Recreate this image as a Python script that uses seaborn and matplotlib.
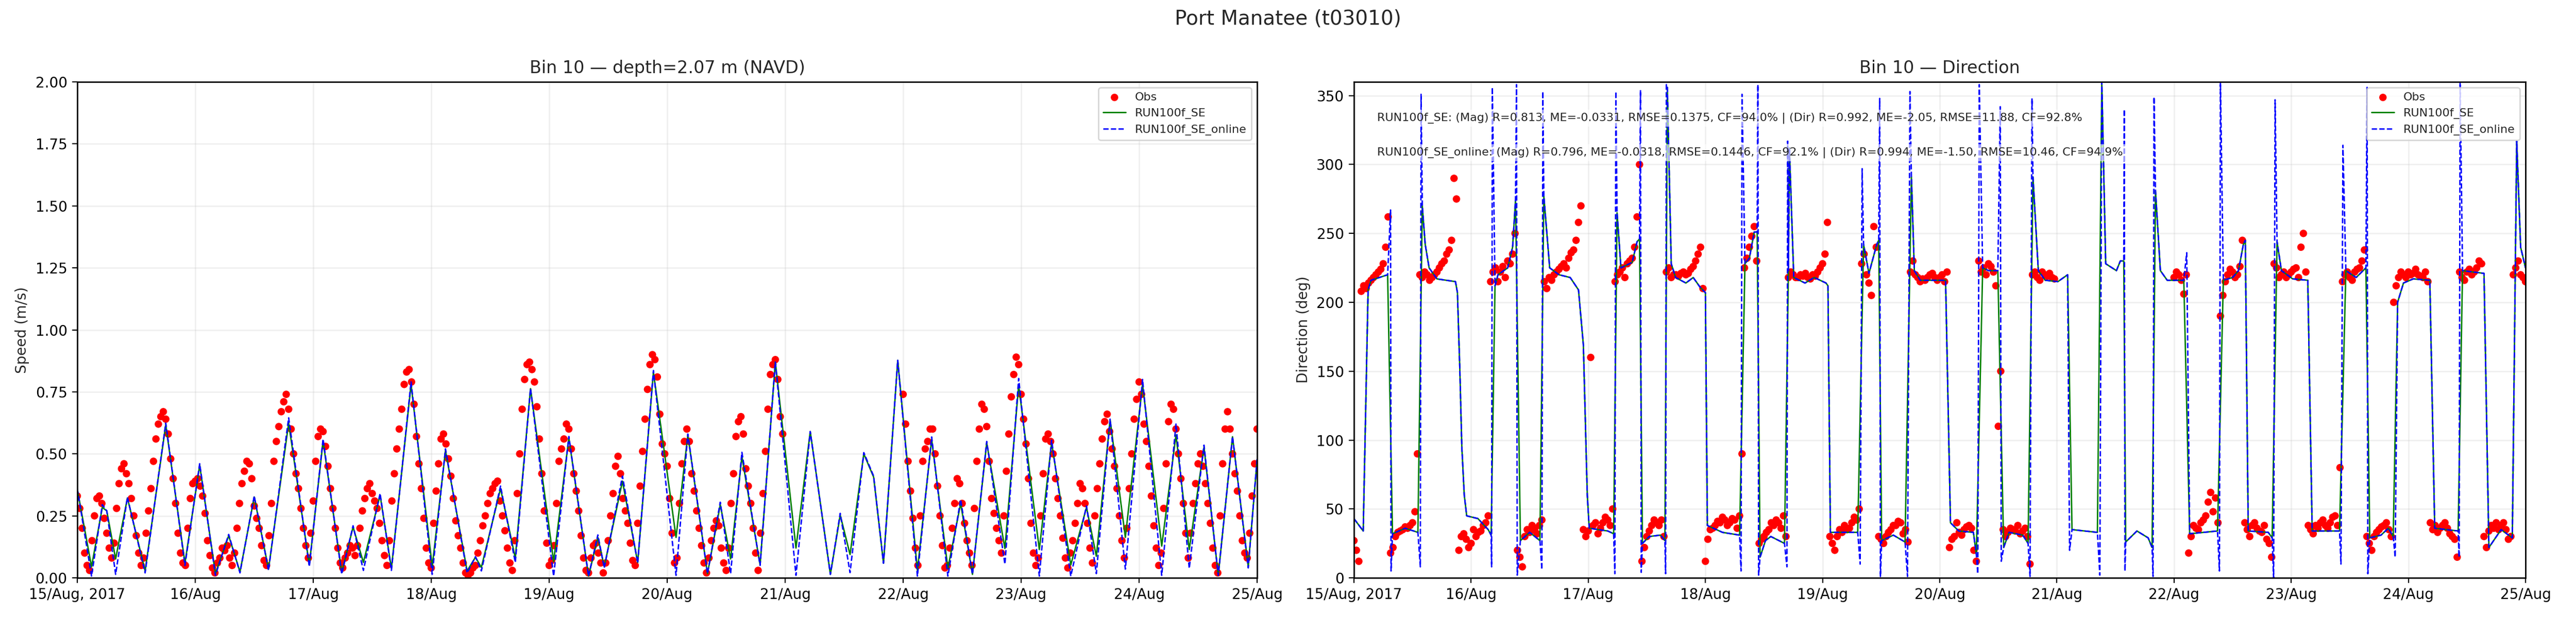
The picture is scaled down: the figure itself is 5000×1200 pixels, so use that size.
import pandas as pd
import matplotlib
matplotlib.use("Agg")
import matplotlib.pyplot as plt
import seaborn as sns

# --- DATA (hours since 15/Aug/2017 00:00) ---
T0 = pd.Timestamp("2017-08-15 00:00")

# modelled speed, read at the turning points of each curve
spd_se_hours = [0, 2.9, 5.1, 6.0, 7.8, 10.2, 13.8, 18.0, 21.9, 24.9, 28.1, 30.8, 33.1, 36.0, 38.9,
                43.0, 47.2, 50.0, 53.8, 56.1, 58.2, 61.6, 63.9, 67.9, 72.2, 74.9, 79.3, 81.0, 82.2,
                86.1, 89.1, 92.2, 96.9, 100.0, 104.0, 105.9, 107.2, 110.9, 114.0, 117.2, 121.8,
                124.2, 128.2, 130.8, 132.9, 135.2, 138.9, 142.0, 146.2, 149.1, 153.2, 155.2, 157.2,
                160.0, 162.0, 164.0, 166.9, 170.9, 173.8, 177.1, 179.7, 182.1, 185.0, 188.7, 191.5,
                195.7, 198.2, 202.1, 205.3, 207.3, 210.1, 213.2, 216.7, 220.6, 223.5, 226.2, 229.2,
                232.1, 235.0, 238.2, 240.0]
spd_se_vals = [0.357, 0.045, 0.284, 0.27, 0.076, 0.322, 0.028, 0.617, 0.059, 0.454, 0.017, 0.17,
               0.024, 0.326, 0.035, 0.624, 0.052, 0.551, 0.021, 0.205, 0.062, 0.333, 0.038, 0.78,
               0.045, 0.513, 0.028, 0.083, 0.042, 0.36, 0.08, 0.763, 0.066, 0.565, 0.007, 0.163,
               0.045, 0.39, 0.062, 0.829, 0.163, 0.576, 0.017, 0.295, 0.076, 0.489, 0.052, 0.87,
               0.12, 0.59, 0.014, 0.253, 0.094, 0.50, 0.406, 0.059, 0.877, 0.03, 0.558, 0.038,
               0.30, 0.014, 0.544, 0.118, 0.777, 0.114, 0.544, 0.052, 0.284, 0.087, 0.638, 0.163,
               0.78, 0.128, 0.576, 0.114, 0.527, 0.01, 0.569, 0.045, 0.475]
spd_online_vals = [0.36, 0.007, 0.295, 0.27, 0.014, 0.325, 0.02, 0.624, 0.05, 0.46, 0.01, 0.175,
                   0.02, 0.33, 0.03, 0.645, 0.045, 0.56, 0.015, 0.21, 0.03, 0.34, 0.03, 0.79,
                   0.014, 0.52, 0.02, 0.085, 0.028, 0.37, 0.062, 0.763, 0.007, 0.57, 0.007, 0.173,
                   0.04, 0.41, 0.06, 0.836, 0.01, 0.58, 0.017, 0.305, 0.017, 0.506, 0.05, 0.87,
                   0.01, 0.59, 0.014, 0.26, 0.021, 0.505, 0.41, 0.059, 0.877, 0.007, 0.568, 0.007,
                   0.316, 0.014, 0.55, 0.055, 0.804, 0.007, 0.555, 0.007, 0.29, 0.017, 0.64, 0.035,
                   0.80, 0.01, 0.62, 0.038, 0.535, 0.01, 0.57, 0.04, 0.48]

# observations, read every half hour; no data between 21/Aug 00h and 22/Aug 00h
obs_hours_a = list(range(0, 144))
obs_hours_b = list(range(168, 241))
obs_half_hours_a = [h + 0.5 for h in range(0, 144)]
obs_half_hours_b = [h + 0.5 for h in range(168, 240)]

obs_spd_a = [0.33, 0.20, 0.05, 0.15, 0.32, 0.30, 0.18, 0.08, 0.28, 0.44, 0.42, 0.32, 0.17, 0.05,
             0.18, 0.36, 0.56, 0.65, 0.64, 0.48, 0.30, 0.10, 0.05, 0.32, 0.39, 0.37, 0.26, 0.09,
             0.02, 0.08, 0.11, 0.08, 0.10, 0.30, 0.43, 0.46, 0.29, 0.20, 0.07, 0.17, 0.47, 0.61,
             0.71, 0.68, 0.50, 0.36, 0.20, 0.08, 0.31, 0.57, 0.59, 0.45, 0.28, 0.12, 0.04, 0.10,
             0.12, 0.13, 0.27, 0.36, 0.34, 0.28, 0.15, 0.05, 0.31, 0.52, 0.68, 0.83, 0.79, 0.57,
             0.36, 0.12, 0.04, 0.35, 0.56, 0.54, 0.41, 0.23, 0.12, 0.02, 0.02, 0.05, 0.15, 0.25,
             0.34, 0.38, 0.31, 0.19, 0.06, 0.15, 0.50, 0.80, 0.87, 0.79, 0.56, 0.27, 0.05, 0.13,
             0.47, 0.56, 0.60, 0.42, 0.27, 0.08, 0.02, 0.13, 0.10, 0.02, 0.15, 0.34, 0.49, 0.32,
             0.22, 0.07, 0.22, 0.51, 0.76, 0.90, 0.81, 0.54, 0.45, 0.18, 0.08, 0.46, 0.60, 0.42,
             0.27, 0.13, 0.02, 0.15, 0.23, 0.12, 0.03, 0.30, 0.57, 0.65, 0.44, 0.30, 0.10, 0.18,
             0.51, 0.82, 0.88, 0.65]
obs_spd_half_a = [0.28, 0.10, 0.03, 0.25, 0.33, 0.24, 0.12, 0.14, 0.38, 0.46,
                  0.38, 0.25, 0.10, 0.08, 0.27, 0.47, 0.62, 0.67, 0.58, 0.40,
                  0.18, 0.06, 0.20, 0.38, 0.40, 0.33, 0.15, 0.04, 0.06, 0.12,
                  0.13, 0.05, 0.20, 0.38, 0.47, 0.40, 0.24, 0.13, 0.05, 0.30,
                  0.55, 0.67, 0.74, 0.60, 0.42, 0.28, 0.13, 0.18, 0.47, 0.60,
                  0.53, 0.36, 0.20, 0.06, 0.08, 0.13, 0.09, 0.20, 0.32, 0.38,
                  0.31, 0.22, 0.09, 0.15, 0.42, 0.60, 0.78, 0.84, 0.70, 0.46,
                  0.24, 0.06, 0.22, 0.46, 0.58, 0.48, 0.32, 0.17, 0.06, 0.01,
                  0.04, 0.10, 0.21, 0.30, 0.36, 0.39, 0.25, 0.12, 0.03, 0.34,
                  0.68, 0.86, 0.84, 0.69, 0.42, 0.14, 0.07, 0.30, 0.52, 0.62,
                  0.52, 0.35, 0.17, 0.03, 0.08, 0.14, 0.06, 0.06, 0.25, 0.45,
                  0.42, 0.27, 0.14, 0.05, 0.37, 0.64, 0.86, 0.88, 0.66, 0.50,
                  0.32, 0.06, 0.30, 0.55, 0.55, 0.35, 0.20, 0.06, 0.08, 0.20,
                  0.21, 0.06, 0.12, 0.42, 0.63, 0.58, 0.37, 0.20, 0.03, 0.34,
                  0.68, 0.86, 0.80, 0.58]
obs_spd_b = [0.74, 0.47, 0.24, 0.05, 0.47, 0.55, 0.60, 0.37, 0.13, 0.05, 0.20, 0.40, 0.30, 0.15,
             0.05, 0.47, 0.70, 0.61, 0.32, 0.20, 0.10, 0.43, 0.73, 0.89, 0.74, 0.54, 0.22, 0.05,
             0.25, 0.56, 0.55, 0.40, 0.25, 0.08, 0.10, 0.22, 0.38, 0.30, 0.12, 0.25, 0.46, 0.63,
             0.59, 0.45, 0.25, 0.08, 0.36, 0.64, 0.79, 0.62, 0.45, 0.21, 0.05, 0.28, 0.63, 0.68,
             0.50, 0.30, 0.08, 0.30, 0.46, 0.45, 0.30, 0.12, 0.02, 0.46, 0.67, 0.50, 0.35, 0.15,
             0.08, 0.33, 0.60]
obs_spd_half_b = [0.62, 0.35, 0.12, 0.25, 0.52, 0.60, 0.50, 0.25, 0.04, 0.12,
                  0.30, 0.38, 0.22, 0.10, 0.28, 0.60, 0.68, 0.47, 0.26, 0.15,
                  0.25, 0.58, 0.82, 0.86, 0.64, 0.40, 0.10, 0.08, 0.42, 0.58,
                  0.50, 0.32, 0.16, 0.04, 0.15, 0.30, 0.36, 0.22, 0.06, 0.36,
                  0.56, 0.66, 0.52, 0.36, 0.15, 0.20, 0.50, 0.72, 0.74, 0.55,
                  0.33, 0.12, 0.10, 0.46, 0.70, 0.60, 0.40, 0.18, 0.18, 0.38,
                  0.50, 0.38, 0.22, 0.05, 0.25, 0.60, 0.60, 0.42, 0.25, 0.10,
                  0.18, 0.46]

obs_dir_a = [27, 12, 212, 214, 218, 222, 228, 262, 22, 33, 35, 36, 40, 90,
             218, 220, 218, 222, 228, 235, 245, 275, 30, 28, 25, 30, 34, 40,
             215, 225, 222, 218, 228, 250, 15, 30, 33, 35, 38,
             215, 218, 220, 224, 228, 232, 238, 258, 35, 34, 38, 32, 40, 42, 50,
             220, 225, 228, 232, 262, 12, 30, 38, 40, 42,
             222, 218, 220, 221, 220, 224, 230, 240, 12, 35, 38, 40, 42, 40, 42, 45,
             225, 240, 255, 25, 30, 35, 38, 40, 45,
             218, 220, 218, 219, 218, 220, 222, 228, 258, 25, 30, 33, 35, 40, 42,
             228, 220, 205, 240, 28, 30, 35, 38, 40, 35,
             222, 220, 215, 216, 220, 218, 218, 215, 22, 30, 33, 35, 38, 20,
             230, 225, 228, 222, 110, 35, 33, 35, 38, 34, 30,
             220, 218, 222, 219, 218]
obs_dir_half_a = [20, 208, 210, 216, 220, 224, 240, 18, 30, 34,
                  37, 38, 48, 220, 222, 216, 220, 225, 230, 238,
                  290, 20, 32, 22, 35, 33, 38, 45, 222, 215,
                  226, 230, 235, 20, 8, 35, 38, 32, 42, 210,
                  216, 222, 226, 225, 236, 245, 270, 30, 160, 40,
                  36, 44, 38, 215, 222, 218, 230, 240, 300, 22,
                  34, 42, 38, 30, 225, 220, 219, 222, 221, 226,
                  235, 210, 28, 36, 41, 44, 38, 43, 36, 90,
                  232, 248, 230, 28, 33, 40, 42, 36, 30, 222,
                  218, 220, 221, 217, 219, 225, 235, 30, 20, 35,
                  38, 36, 44, 50, 235, 214, 255, 30, 25, 33,
                  38, 41, 32, 26, 230, 218, 217, 218, 221, 216,
                  220, 222, 28, 40, 31, 37, 36, 12, 222, 220,
                  226, 212, 150, 30, 36, 34, 32, 36, 10, 222,
                  216, 220, 221, 217]
obs_dir_b = [218, 220, 206, 18, 38, 35, 42, 55, 48, 40,
             205, 220, 222, 220, 245, 35, 38, 36, 33, 28, 15,
             225, 220, 218, 222, 225, 240, 222, 35, 38, 40, 38, 40, 45, 80,
             220, 218, 222, 225, 238, 25, 30, 35, 38, 35, 200,
             218, 220, 222, 221, 220, 218, 215, 35, 33, 38, 36, 30, 15,
             218, 222, 220, 225, 228, 22, 38, 40, 38, 35, 30,
             225, 220, 215]
obs_dir_half_b = [222, 216, 220, 30, 36, 40, 45, 62, 58, 190,
                  215, 224, 218, 226, 40, 30, 40, 34, 38, 25,
                  228, 218, 222, 220, 224, 218, 250, 38, 32, 36,
                  42, 36, 44, 38, 215, 222, 216, 224, 230, 30,
                  20, 33, 37, 40, 30, 212, 222, 218, 220, 224,
                  219, 222, 40, 38, 36, 40, 32, 28, 222, 216,
                  224, 222, 230, 30, 34, 36, 35, 40, 28, 220,
                  230, 218]

# modelled direction (RUN100f_SE), read at its breakpoints
dir_se_hours = [0, 1.9, 2.9, 3.5, 6.9, 7.9, 10.5, 13.1, 14.0, 14.6,
                15.4, 17.0, 20.8, 21.2, 21.7, 22.1, 22.6, 23.1, 25.4, 27.5,
                28.1, 28.9, 29.5, 31.5, 32.5, 33.1, 34.1, 36.0, 38.1, 38.9,
                40.1, 42.0, 44.3, 46.0, 47.0, 47.8, 48.2, 52.0, 53.2, 53.9,
                54.7, 57.0, 58.0, 58.5, 59.1, 60.5, 62.8, 63.7, 64.2, 65.0,
                65.9, 68.0, 69.5, 70.9, 72.0, 72.4, 75.5, 79.0, 80.1, 81.0,
                82.0, 82.6, 83.2, 84.3, 85.4, 88.2, 89.0, 89.2, 90.1, 92.4,
                94.3, 96.7, 97.1, 97.6, 103.2, 104.4, 105.5, 107.1, 107.5, 108.1,
                110.5, 112.9, 114.2, 114.8, 116.0, 121.2, 122.2, 123.9, 126.9, 127.5,
                128.8, 130.0, 131.9, 133.1, 134.2, 137.0, 138.1, 139.1, 140.2, 141.6,
                144.2, 146.2, 147.1, 152.3, 153.2, 154.0, 156.2, 157.0, 157.7, 158.1,
                160.4, 162.7, 163.5, 164.2, 165.2, 166.6, 170.0, 171.2, 176.9, 178.1,
                180.0, 181.2, 182.2, 182.6, 183.2, 187.3, 188.1, 189.1, 190.0, 192.3,
                195.4, 196.3, 201.9, 203.2, 205.3, 207.3, 208.1, 210.4, 211.9, 212.9,
                213.8, 215.0, 217.0, 220.4, 221.4, 226.2, 227.1, 229.3, 231.5, 232.5,
                235.0, 237.3, 238.2, 239.0, 240.0]
dir_se_vals = [43, 34, 209, 216, 220, 32, 36, 33, 270, 242,
               225, 217, 215, 207, 150, 95, 60, 45, 43, 35,
               31, 212, 220, 225, 240, 274, 27, 33, 27, 277,
               225, 220, 218, 209, 169, 60, 36, 34, 32, 265,
               225, 229, 244, 246, 25, 30, 31, 27, 356, 228,
               218, 214, 218, 211, 207, 38, 33, 31, 228, 232,
               251, 251, 15, 27, 30, 25, 223, 312, 218, 214,
               218, 214, 212, 33, 33, 242, 221, 242, 245, 27,
               31, 26, 291, 223, 216, 216, 40, 34, 33, 17,
               225, 223, 223, 22, 33, 31, 25, 291, 223, 216,
               215, 220, 35, 33, 360, 228, 223, 230, 230, 26,
               34, 29, 22, 281, 223, 216, 216, 32, 34, 216,
               218, 223, 242, 245, 34, 33, 29, 244, 223, 217,
               216, 34, 34, 223, 218, 225, 29, 31, 36, 30,
               200, 214, 217, 216, 36, 34, 223, 222, 221, 22,
               35, 29, 317, 240, 225]

# extra wrap-around spikes of the online run at slack water
dir_online_spike_hours = [7.5, 7.6, 13.6, 13.75, 28.2, 28.35, 33.3, 33.45, 38.5, 38.7,
                          53.45, 53.65, 58.7, 58.85, 63.85, 64.0, 79.3, 79.5, 82.75, 82.9,
                          88.7, 88.85, 103.7, 104.1, 107.7, 107.85, 113.4, 113.9, 127.8, 128.1,
                          132.4, 132.6, 138.5, 138.9, 146.6, 152.8, 157.8, 157.95, 163.7, 163.9,
                          170.6, 177.3, 177.5, 188.4, 188.7, 202.2, 202.6, 207.55, 207.7, 213.3,
                          226.4, 226.6]
dir_online_spike_vals = [267, 5, 8, 351, 8, 356, 358, 2, 6, 353,
                         3, 353, 354, 4, 3, 358, 5, 351, 358, 2,
                         8, 317, 10, 297, 348, 1, 1, 353, 3, 358,
                         342, 12, 1, 348, 20, 2, 340, 5, 1, 349,
                         236, 5, 360, 0, 347, 10, 314, 356, 3, 15,
                         15, 360]

day_labels = ["15/Aug, 2017", "16/Aug", "17/Aug", "18/Aug", "19/Aug", "20/Aug",
              "21/Aug", "22/Aug", "23/Aug", "24/Aug", "25/Aug"]

stats_se = ("RUN100f_SE: (Mag) R=0.813, ME=-0.0331, RMSE=0.1375, CF=94.0% | "
            "(Dir) R=0.992, ME=-2.05, RMSE=11.88, CF=92.8%")
stats_online = ("RUN100f_SE_online: (Mag) R=0.796, ME=-0.0318, RMSE=0.1446, CF=92.1% | "
                "(Dir) R=0.994, ME=-1.50, RMSE=10.46, CF=94.9%")


def to_time(hours):
    return T0 + pd.to_timedelta(pd.Series(hours, dtype=float), unit="h")


def main():
    sns.set_theme(style="ticks")
    plt.rcParams["font.family"] = ["DejaVu Sans"]
    plt.rcParams["axes.edgecolor"] = "black"
    plt.rcParams["xtick.color"] = "black"
    plt.rcParams["ytick.color"] = "black"

    obs = pd.DataFrame({
        "h": obs_hours_a + obs_half_hours_a + obs_hours_b + obs_half_hours_b,
        "speed": obs_spd_a + obs_spd_half_a + obs_spd_b + obs_spd_half_b,
        "dir": obs_dir_a + obs_dir_half_a + obs_dir_b + obs_dir_half_b,
    }).sort_values("h")
    obs["time"] = to_time(obs["h"].tolist()).values

    spd = pd.DataFrame({"time": to_time(spd_se_hours), "se": spd_se_vals,
                        "online": spd_online_vals})
    dir_se = pd.DataFrame({"time": to_time(dir_se_hours), "val": dir_se_vals})
    dir_online = pd.concat([
        pd.DataFrame({"h": dir_se_hours, "val": dir_se_vals}),
        pd.DataFrame({"h": dir_online_spike_hours, "val": dir_online_spike_vals}),
    ]).sort_values("h")
    dir_online["time"] = to_time(dir_online["h"].tolist()).values

    fig = plt.figure(figsize=(25, 6), dpi=200)
    ax1 = fig.add_axes([0.030, 0.065, 0.458, 0.8025])
    ax2 = fig.add_axes([0.5256, 0.065, 0.4548, 0.8025])

    # --- speed panel ---
    sns.scatterplot(data=obs, x="time", y="speed", ax=ax1, color="red", s=27,
                    edgecolor="none", label="Obs")
    sns.lineplot(data=spd, x="time", y="se", ax=ax1, color="green", lw=1.0,
                 label="RUN100f_SE", errorbar=None)
    sns.lineplot(data=spd, x="time", y="online", ax=ax1, color="blue", lw=1.0,
                 linestyle="--", label="RUN100f_SE_online", errorbar=None)
    ax1.set_ylim(0, 2.0)
    ax1.set_yticks([0, 0.25, 0.5, 0.75, 1.0, 1.25, 1.5, 1.75, 2.0])
    ax1.set_yticklabels([f"{v:.2f}" for v in ax1.get_yticks()])
    ax1.set_ylabel("Speed (m/s)", fontsize=10)
    ax1.set_title("Bin 10 \u2014 depth=2.07 m (NAVD)", fontsize=12)

    # --- direction panel ---
    sns.scatterplot(data=obs, x="time", y="dir", ax=ax2, color="red", s=27,
                    edgecolor="none", label="Obs")
    sns.lineplot(data=dir_se, x="time", y="val", ax=ax2, color="green", lw=1.0,
                 label="RUN100f_SE", errorbar=None)
    sns.lineplot(data=dir_online, x="time", y="val", ax=ax2, color="blue", lw=1.0,
                 linestyle="--", label="RUN100f_SE_online", errorbar=None, sort=False)
    ax2.set_ylim(0, 360)
    ax2.set_yticks(range(0, 351, 50))
    ax2.set_ylabel("Direction (deg)", fontsize=10)
    ax2.set_title("Bin 10 \u2014 Direction", fontsize=12)

    box = dict(facecolor="white", alpha=0.6, edgecolor="none", pad=2)
    ax2.text(0.02, 0.927, stats_se, transform=ax2.transAxes, fontsize=8,
             va="center", ha="left", bbox=box)
    ax2.text(0.02, 0.857, stats_online, transform=ax2.transAxes, fontsize=8,
             va="center", ha="left", bbox=box)

    days = list(pd.date_range("2017-08-15", "2017-08-25", freq="D").to_pydatetime())
    for ax in (ax1, ax2):
        ax.set_xlim(days[0], days[-1])
        ax.set_xticks(days)
        ax.set_xticklabels(day_labels)
        ax.set_xlabel("")
        ax.tick_params(labelsize=10, length=3.5, width=0.8)
        ax.grid(True, alpha=0.3)
        ax.legend(loc="upper right", fontsize=8)
        for sp in ax.spines.values():
            sp.set_visible(True)
            sp.set_linewidth(1.0)

    fig.suptitle("Port Manatee (t03010)", fontsize=14, y=0.985)
    fig.savefig("out.png", dpi=200)


if __name__ == "__main__":
    main()
